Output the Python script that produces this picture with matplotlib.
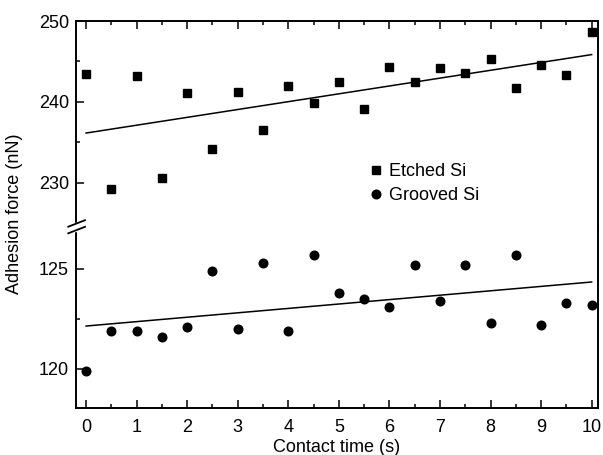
import matplotlib.pyplot as plt
import numpy as np
from matplotlib.lines import Line2D

plt.rcParams['font.family'] = ['Liberation Sans', 'DejaVu Sans']
plt.rcParams['font.size'] = 13

# contact time (s)
time = [0, 0.5, 1, 1.5, 2, 2.5, 3, 3.5, 4, 4.5, 5,
        5.5, 6, 6.5, 7, 7.5, 8, 8.5, 9, 9.5, 10]

# adhesion force (nN)
etched = [243.4, 229.2, 243.2, 230.6, 241.1, 234.2, 241.2, 236.5, 242.0, 239.8, 242.4,
          239.1, 244.3, 242.4, 244.2, 243.6, 245.3, 241.7, 244.5, 243.3, 248.7]
grooved = [119.9, 121.9, 121.9, 121.6, 122.1, 124.9, 122.0, 125.3, 121.9, 125.7, 123.8,
           123.5, 123.1, 125.2, 123.4, 125.2, 122.3, 125.7, 122.2, 123.3, 123.2]

W, H = 603, 455
fig = plt.figure(figsize=(W / 100, H / 100), dpi=100)

left, right = 76 / W, 597.7 / W
top, mid, bottom = 1 - 21 / H, 1 - 227 / H, 1 - 407.7 / H
ax_top = fig.add_axes([left, mid, right - left, top - mid])
ax_bot = fig.add_axes([left, bottom, right - left, mid - bottom], sharex=ax_top)

t = np.array(time)
line_x = np.array([0, 10])
for ax, y, marker, ms in [(ax_top, etched, 's', 5.6), (ax_bot, grooved, 'o', 6.2)]:
    ax.plot(t, y, linestyle='none', marker=marker, color='black', markersize=ms)
    # least-squares line through each series
    k, b = np.polyfit(t, y, 1)
    ax.plot(line_x, k * line_x + b, color='black', linewidth=1.1)
    for s in ax.spines.values():
        s.set_linewidth(1.4)
    ax.tick_params(which='both', direction='in', right=False, width=1.1, pad=8,
                   labelsize=13)
    ax.tick_params(which='major', length=6)
    ax.tick_params(which='minor', length=3)

ax_top.set_ylim(224.5, 250)
ax_top.set_yticks([230, 240, 250])
ax_top.set_yticks([235, 245], minor=True)
ax_top.spines['bottom'].set_visible(False)
ax_top.tick_params(axis='x', which='both', bottom=False, top=True, labelbottom=False)
ax_top.tick_params(axis='y', pad=5)

ax_bot.set_ylim(118.05, 127.1)
ax_bot.set_yticks([120, 125])
ax_bot.set_yticks([122.5], minor=True)
ax_bot.spines['top'].set_visible(False)
ax_bot.tick_params(axis='x', which='both', top=False)
ax_bot.tick_params(axis='y', pad=5)

ax_bot.set_xlim(-0.2, 10.12)
ax_bot.set_xticks(range(0, 11))
ax_bot.set_xticks(np.arange(0.5, 10, 1), minor=True)
ax_bot.set_xlabel('Contact time (s)', fontsize=13, labelpad=2)

fig.text(15 / W, 1 - 214 / H, 'Adhesion force (nN)', rotation=90,
         ha='center', va='center', fontsize=13)

# axis break marks on the left spine
def px(x, y):
    return x / W, 1 - y / H

gap = Line2D(*zip(px(76, 224), px(76, 230)), color='white', linewidth=2.5,
             transform=fig.transFigure)
fig.add_artist(gap)
for y0 in (226.7, 233.3):
    (x1, y1), (x2, y2) = px(68.3, y0), px(85, y0 - 6.5)
    fig.add_artist(Line2D([x1, x2], [y1, y2], color='black', linewidth=1.3,
                          transform=fig.transFigure))

handles = [Line2D([], [], linestyle='none', marker='s', color='black', markersize=5.6),
           Line2D([], [], linestyle='none', marker='o', color='black', markersize=6.2)]
ax_top.legend(handles, ['Etched Si', 'Grooved Si'], loc='center left',
              bbox_to_anchor=px(367.5, 183.5), bbox_transform=fig.transFigure,
              frameon=False, fontsize=13, handlelength=0.9, handletextpad=0.3,
              borderpad=0, borderaxespad=0, labelspacing=0.4)

fig.savefig('out.png', dpi=100)
